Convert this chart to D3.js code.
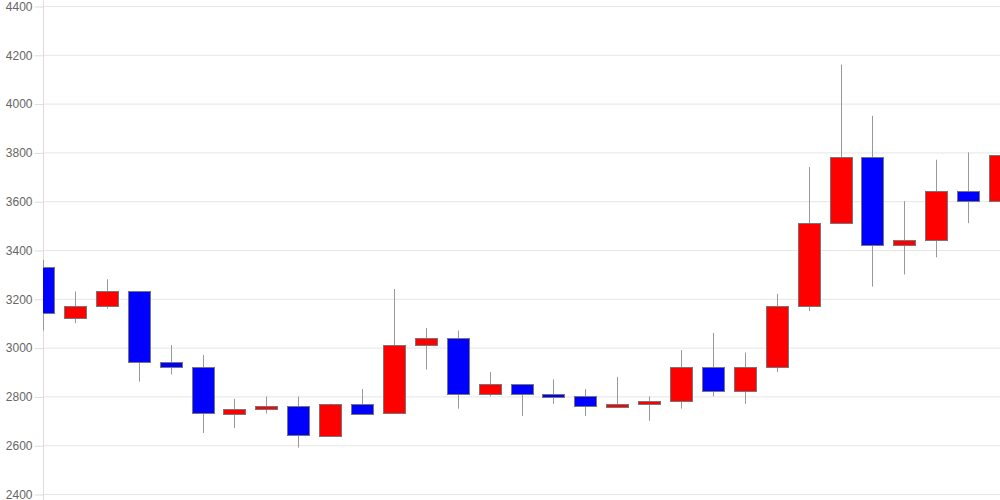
<!DOCTYPE html>
<html>
<head>
<meta charset="utf-8">
<script src="https://cdn.jsdelivr.net/npm/d3@7"></script>
<style>
  body { margin: 0; background: #fff; }
  svg { display: block; }
  .tick text { font-family: "Liberation Sans", Arial, sans-serif; font-size: 12px; fill: #666; }
</style>
</head>
<body>
<svg id="chart" width="1000" height="500"></svg>
<script>
// daily candles, oldest first
var days = d3.range(31);
var open  = [3330, 3120, 3170, 3230, 2940, 2920, 2730, 2750, 2760, 2640, 2770, 2730, 3010, 3040, 2810, 2850, 2810, 2800, 2760, 2770, 2780, 2920, 2820, 2920, 3170, 3510, 3780, 3420, 3440, 3640, 3600];
var high  = [3360, 3230, 3280, 3230, 3010, 2970, 2790, 2800, 2800, 2770, 2830, 3240, 3080, 3070, 2900, 2850, 2870, 2830, 2880, 2800, 2990, 3060, 2980, 3220, 3740, 4160, 3950, 3600, 3770, 3800, 3930];
var low   = [3070, 3100, 3160, 2860, 2890, 2650, 2670, 2730, 2590, 2640, 2730, 2730, 2910, 2750, 2800, 2720, 2770, 2720, 2760, 2700, 2750, 2800, 2770, 2900, 3150, 3510, 3250, 3300, 3370, 3510, 3600];
var close = [3140, 3170, 3230, 2940, 2920, 2730, 2750, 2760, 2640, 2770, 2730, 3010, 3040, 2810, 2850, 2810, 2800, 2760, 2770, 2780, 2920, 2820, 2920, 3170, 3510, 3780, 3420, 3440, 3640, 3600, 3790];
var yTicks = [2400, 2600, 2800, 3000, 3200, 3400, 3600, 3800, 4000, 4200, 4400];

var svg = d3.select('#chart');
var plotL = 43, plotR = 1000, plotT = 6, plotB = 494;

var x = d3.scaleLinear().domain([0, days.length - 1]).range([plotL, plotR]);
var y = d3.scaleLinear().domain([2400, 4400]).range([plotB, plotT]);

// grid lines
svg.append('g')
  .selectAll('line')
  .data(yTicks)
  .enter().append('line')
  .attr('x1', plotL).attr('x2', plotR)
  .attr('y1', function(d) { return y(d) + 0.5; })
  .attr('y2', function(d) { return y(d) + 0.5; })
  .attr('stroke', '#e6e6e6');

// y axis
var yAxis = svg.append('g')
  .attr('transform', 'translate(' + (plotL + 0.5) + ',0.5)')
  .call(d3.axisLeft(y).tickValues(yTicks).tickSize(9).tickPadding(2).tickFormat(d3.format('d')));
yAxis.select('.domain').attr('stroke', '#ddd').attr('d', 'M0,' + (plotT - 6) + 'V' + (plotB + 6));
yAxis.selectAll('.tick line').attr('stroke', '#ddd');

// clip to the plot area
svg.append('clipPath').attr('id', 'plot')
  .append('rect').attr('x', plotL).attr('y', 0).attr('width', plotR - plotL).attr('height', 500);

var candles = svg.append('g').attr('clip-path', 'url(#plot)')
  .selectAll('g')
  .data(days)
  .enter().append('g');

// wicks
candles.append('line')
  .attr('x1', function(i) { return Math.round(x(i)) + 0.5; })
  .attr('x2', function(i) { return Math.round(x(i)) + 0.5; })
  .attr('y1', function(i) { return y(high[i]); })
  .attr('y2', function(i) { return y(low[i]); })
  .attr('stroke', '#999');

// bodies
var bodyW = 23;
candles.append('rect')
  .attr('x', function(i) { return Math.round(x(i)) - Math.floor(bodyW / 2) + 0.5; })
  .attr('y', function(i) { return Math.round(y(Math.max(open[i], close[i]))) + 0.5; })
  .attr('width', bodyW - 1)
  .attr('height', function(i) { return Math.max(3, Math.round(y(Math.min(open[i], close[i])) - y(Math.max(open[i], close[i])))); })
  .attr('fill', function(i) { return close[i] >= open[i] ? '#ff0000' : '#0000ff'; })
  .attr('stroke', '#777');
</script>
</body>
</html>
